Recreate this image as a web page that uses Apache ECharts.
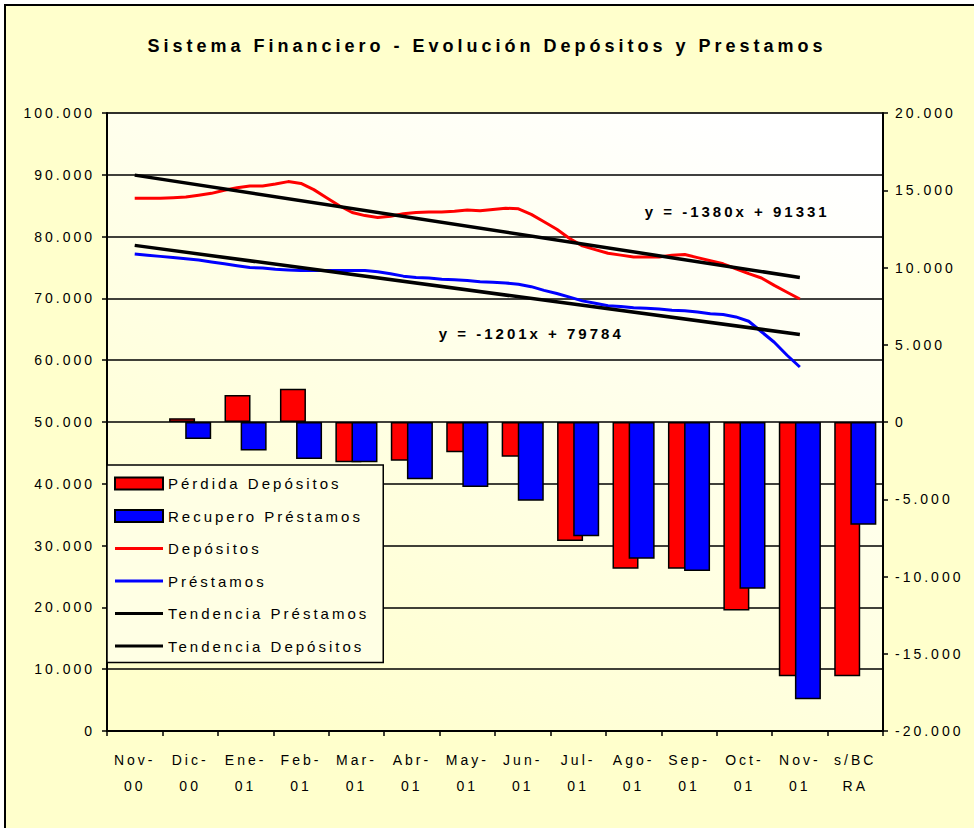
<!DOCTYPE html>
<html>
<head>
<meta charset="utf-8">
<script src="https://cdn.jsdelivr.net/npm/echarts@6/dist/echarts.min.js"></script>
<style>
  html, body { margin: 0; padding: 0; background: #fff; overflow: hidden; }
  .frame { position: absolute; left: 4px; top: 4px; width: 1000px; height: 900px;
           border: 2px solid #000; background: #FFFFCC; }
  #container { position: absolute; left: 0; top: 0; width: 974px; height: 828px; }
  #container svg text { letter-spacing: 3px; }
  #container svg text[style*="18px"] { letter-spacing: 4px; }
</style>
</head>
<body>
<div class="frame"></div>
<div id="container"></div>
<script>
// categories (bars) and weekly line data
var categories = ['Nov-\n00', 'Dic-\n00', 'Ene-\n01', 'Feb-\n01', 'Mar-\n01', 'Abr-\n01', 'May-\n01',
    'Jun-\n01', 'Jul-\n01', 'Ago-\n01', 'Sep-\n01', 'Oct-\n01', 'Nov-\n01', 's/BC\nRA'];

var perdidaDepositos = [null, 250, 1750, 2150, -2600, -2500, -1950, -2250, -7700, -9500, -9500, -12200, -16450, -16450];
var recuperoPrestamos = [null, -1100, -1850, -2400, -2600, -3700, -4200, -5100, -7400, -8850, -9650, -10800, -17950, -6650];

// weekly series, Nov-00 .. Nov-01
var depositos = [86200, 86200, 86200, 86300, 86400, 86700, 87000, 87500, 87900, 88200,
    88200, 88500, 88900, 88600, 87600, 86300, 85000, 83900, 83400, 83100,
    83300, 83700, 83900, 84000, 84000, 84100, 84300, 84200, 84400, 84600,
    84500, 83600, 82400, 81200, 79700, 78500, 77900, 77300, 77000, 76700,
    76700, 76700, 77000, 77100, 76600, 76100, 75600, 74800, 74000, 73300,
    72100, 71000, 69900];
var prestamos = [77200, 77000, 76800, 76600, 76400, 76200, 75900, 75600, 75300, 75000,
    74900, 74700, 74600, 74500, 74500, 74500, 74500, 74500, 74500, 74300,
    74000, 73600, 73400, 73300, 73100, 73000, 72900, 72700, 72600, 72500,
    72300, 71900, 71300, 70800, 70200, 69600, 69200, 68800, 68700, 68500,
    68400, 68300, 68100, 68000, 67800, 67500, 67400, 67000, 66300, 64600,
    62900, 60800, 58900];

var trendWeeks = [0, 52];
var tendenciaDepositos = [89950, 73390];
var tendenciaPrestamos = [78580, 64170];

var leftTicks = { min: 0, max: 100000, interval: 10000 };
var rightTicks = { min: -20000, max: 20000, interval: 5000 };

var weeksPerMonth = 52 / 12;
var FONT = 'Liberation Sans';
var LINE_ICON = 'path://M0,0H48V3H0Z';

function fmt(v) {
    return String(v).replace(/\B(?=(\d{3})+(?!\d))/g, '.');
}
function pairs(xs, ys) {
    return ys.map(function (v, i) { return [xs[i], v]; });
}
var weekIdx = depositos.map(function (_, i) { return i; });

// invisible anchor with a bold text label (trend equations)
function eqLabel(text, coord) {
    return {
        symbol: 'circle',
        symbolSize: 1,
        itemStyle: { color: 'rgba(0,0,0,0)' },
        label: { show: true, position: 'inside', fontFamily: FONT, fontSize: 15, fontWeight: 'bold',
            color: '#000', formatter: text },
        data: [{ coord: coord }]
    };
}

var dom = document.getElementById('container');
var myChart = echarts.init(dom, null, { renderer: 'svg' });

var option = {
    animation: false,
    backgroundColor: 'transparent',
    title: {
        text: 'Sistema Financiero - Evolución Depósitos y Prestamos',
        left: 'center',
        top: 32,
        textStyle: { fontFamily: FONT, fontSize: 18, fontWeight: 'bold', color: '#000' }
    },
    legend: {
        orient: 'vertical',
        left: 107,
        top: 465,
        padding: [10, 71, 8, 7],
        itemWidth: 48,
        itemHeight: 12,
        itemGap: 15.5,
        symbolKeepAspect: true,
        backgroundColor: '#FFFFE4',
        borderColor: '#000',
        borderWidth: 1.5,
        borderRadius: 0,
        textStyle: { fontFamily: FONT, fontSize: 15, lineHeight: 17, color: '#000' },
        data: [
            { name: 'Pérdida Depósitos', icon: 'rect' },
            { name: 'Recupero Préstamos', icon: 'rect' },
            { name: 'Depósitos', icon: LINE_ICON },
            { name: 'Préstamos', icon: LINE_ICON },
            { name: 'Tendencia Préstamos', icon: LINE_ICON },
            { name: 'Tendencia Depósitos', icon: LINE_ICON }
        ]
    },
    grid: {
        left: 107, right: 91, top: 113, bottom: 97,
        show: true,
        borderColor: '#808080',
        borderWidth: 1,
        backgroundColor: {
            type: 'linear', x: 0.2, y: 1, x2: 0.8, y2: 0,
            colorStops: [{ offset: 0, color: '#FFFFCC' }, { offset: 1, color: '#FFFFFF' }]
        }
    },
    xAxis: [{
        type: 'category',
        data: categories,
        axisLine: { lineStyle: { color: '#000', width: 2 } },
        axisTick: { show: true, length: 5, lineStyle: { color: '#000', width: 1.5 } },
        axisLabel: { interval: 0, margin: 16, fontFamily: FONT, fontSize: 14, lineHeight: 26, color: '#000' }
    }, {
        type: 'value',
        show: false,
        min: -0.5 * weeksPerMonth,
        max: 52 + 1.5 * weeksPerMonth,
        splitLine: { show: false }
    }],
    yAxis: [{
        type: 'value',
        min: leftTicks.min, max: leftTicks.max, interval: leftTicks.interval,
        axisLine: { show: true, onZero: false, lineStyle: { color: '#000', width: 2 } },
        axisTick: { show: true, length: 5, lineStyle: { color: '#000', width: 1.5 } },
        axisLabel: { margin: 12, fontFamily: FONT, fontSize: 14, color: '#000', formatter: fmt },
        splitLine: { show: true, lineStyle: { color: '#000', width: 1.5 } }
    }, {
        type: 'value',
        position: 'right',
        min: rightTicks.min, max: rightTicks.max, interval: rightTicks.interval,
        axisLine: { show: true, onZero: false, lineStyle: { color: '#000', width: 2 } },
        axisTick: { show: true, length: 5, lineStyle: { color: '#000', width: 1.5 } },
        axisLabel: { margin: 12, fontFamily: FONT, fontSize: 14, color: '#000', formatter: fmt },
        splitLine: { show: false }
    }],
    series: [{
        name: 'Pérdida Depósitos',
        type: 'bar',
        xAxisIndex: 0, yAxisIndex: 1,
        data: perdidaDepositos,
        barWidth: 26,
        barGap: '-38%',
        itemStyle: { color: '#FF0000', borderColor: '#000', borderWidth: 1.5 }
    }, {
        name: 'Recupero Préstamos',
        type: 'bar',
        xAxisIndex: 0, yAxisIndex: 1,
        data: recuperoPrestamos,
        barWidth: 26,
        barGap: '-38%',
        itemStyle: { color: '#0000FF', borderColor: '#000', borderWidth: 1.5 }
    }, {
        name: 'Depósitos',
        type: 'line',
        xAxisIndex: 1, yAxisIndex: 0,
        data: pairs(weekIdx, depositos),
        symbol: 'none',
        lineStyle: { color: '#FF0000', width: 3, join: 'round' },
        itemStyle: { color: '#FF0000' }
    }, {
        name: 'Préstamos',
        type: 'line',
        xAxisIndex: 1, yAxisIndex: 0,
        data: pairs(weekIdx, prestamos),
        symbol: 'none',
        lineStyle: { color: '#0000FF', width: 3, join: 'round' },
        itemStyle: { color: '#0000FF' }
    }, {
        name: 'Tendencia Préstamos',
        type: 'line',
        xAxisIndex: 1, yAxisIndex: 0,
        data: pairs(trendWeeks, tendenciaPrestamos),
        symbol: 'none',
        lineStyle: { color: '#000', width: 3.5 },
        itemStyle: { color: '#000' },
        markPoint: eqLabel('y = -1201x + 79784', [31, 64400])
    }, {
        name: 'Tendencia Depósitos',
        type: 'line',
        xAxisIndex: 1, yAxisIndex: 0,
        data: pairs(trendWeeks, tendenciaDepositos),
        symbol: 'none',
        lineStyle: { color: '#000', width: 3.5 },
        itemStyle: { color: '#000' },
        markPoint: eqLabel('y = -1380x + 91331', [47.1, 84000])
    }]
};

myChart.setOption(option);
window.addEventListener('resize', myChart.resize);
</script>
</body>
</html>
